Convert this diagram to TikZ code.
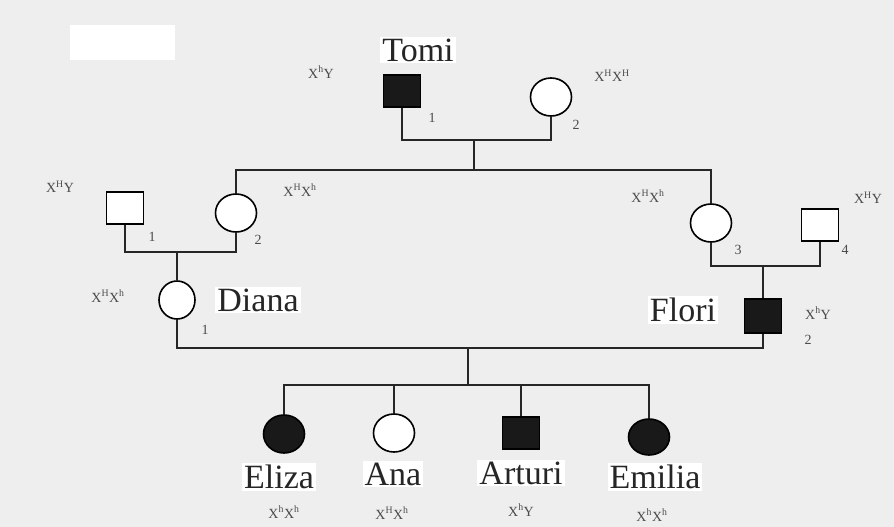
\documentclass[tikz,border=0pt]{standalone}
\usepackage{fontspec}
\setmainfont{Liberation Serif}
\usetikzlibrary{shapes.geometric}
\definecolor{bgc}{RGB}{238,238,238}
\definecolor{lbl}{RGB}{75,75,75}
\tikzset{
  male/.style={draw=black, rectangle, minimum width=37pt, minimum height=32pt, inner sep=0pt},
  female/.style={draw=black, ellipse, minimum width=41pt, minimum height=38pt, inner sep=0pt},
  affected/.style={fill=black!90},
  unaff/.style={fill=white},
  pname/.style={font=\fontsize{34}{34}\selectfont, fill=white, inner sep=2pt, text=black!85},
  geno/.style={font=\fontsize{14}{14}\selectfont, text=lbl, inner sep=0pt},
  num/.style={font=\fontsize{14}{14}\selectfont, text=lbl, inner sep=0pt},
  conn/.style={draw=black!85, line width=1.6pt}
}
\newcommand{\gH}{X\textsuperscript{H}}
\newcommand{\gh}{X\textsuperscript{h}}
\begin{document}
\begin{tikzpicture}[x=1pt,y=-1pt]
\path[fill=bgc] (0,0) rectangle (894,527);
\useasboundingbox (0,0) rectangle (894,527);
\fill[white] (70,25) rectangle (175,60);

% generation I
\node[male, affected, line width=1.6pt] (T) at (402,91) {};
\node[female, unaff, line width=1.6pt] (G2) at (551,97) {};
\node[pname] (tT) at (418,50) {Tomi};
\node[geno] (gT) at (321,72) {\gh Y};
\node[num] (nT) at (432,118) {1};
\node[geno] (gG2) at (612,76) {\gH\gH};
\node[num] (nG2) at (576,125) {2};

% generation II
\node[male, unaff, line width=1.6pt] (L1) at (125,208) {};
\node[female, unaff, line width=1.6pt] (L2) at (236,213) {};
\node[female, unaff, line width=1.6pt] (R3) at (711,223) {};
\node[male, unaff, line width=1.6pt] (R4) at (820,225) {};
\node[geno] (gL1) at (60,187) {\gH Y};
\node[num] (nL1) at (152,237) {1};
\node[num] (nL2) at (258,240) {2};
\node[geno] (gL2) at (300,190) {\gH\gh};
\node[geno] (gR3) at (648,196) {\gH\gh};
\node[num] (nR3) at (738,250) {3};
\node[geno] (gR4) at (868,198) {\gH Y};
\node[num] (nR4) at (845,250) {4};

% generation III
\node[female, unaff, line width=1.6pt, minimum width=36pt] (D) at (177,300) {};
\node[male, affected, line width=1.6pt, minimum height=34pt] (Fl) at (763,316) {};
\node[pname] (tD) at (258,300) {Diana};
\node[geno] (gD) at (108,296) {\gH\gh};
\node[num] (nD) at (205,330) {1};
\node[pname] (tFl) at (683,310) {Flori};
\node[geno] (gFl) at (818,313) {\gh Y};
\node[num] (nFl) at (808,340) {2};

% generation IV
\node[female, affected, line width=1.6pt] (E) at (284,434) {};
\node[female, unaff, line width=1.6pt] (A) at (394,433) {};
\node[male, affected, line width=1.6pt] (Ar) at (521,433) {};
\node[female, affected, line width=1.6pt, minimum height=36pt] (Em) at (649,437) {};
\node[pname] (tE) at (279,477) {Eliza};
\node[pname] (tA) at (393,474) {Ana};
\node[pname] (tAr) at (521,473) {Arturi};
\node[pname] (tEm) at (655,477) {Emilia};
\node[geno] (gE) at (284,512) {\gh\gh};
\node[geno] (gA) at (392,513) {\gH\gh};
\node[geno] (gAr) at (521,510) {\gh Y};
\node[geno] (gEm) at (652,515) {\gh\gh};

% junctions
\coordinate (m1) at (474,140);
\coordinate (s1) at (474,170);
\coordinate (m2) at (177,252);
\coordinate (m3) at (763,266);
\coordinate (m4) at (468,348);
\coordinate (s2) at (468,385);

% connectors
\draw[conn] (T.south) |- (m1) -| (G2.south);
\draw[conn] (m1) -- (s1);
\draw[conn] (L2.north) |- (s1) -| (R3.north);
\draw[conn] (L1.south) |- (m2) -| (L2.south);
\draw[conn] (m2) -- (D.north);
\draw[conn] (R3.south) |- (m3) -| (R4.south);
\draw[conn] (m3) -- (Fl.north);
\draw[conn] (D.south) |- (m4) -| (Fl.south);
\draw[conn] (m4) -- (s2);
\draw[conn] (E.north) |- (s2) -| (Em.north);
\draw[conn] (A.north) -- (A.north |- s2);
\draw[conn] (Ar.north) -- (Ar.north |- s2);
\end{tikzpicture}
\end{document}
